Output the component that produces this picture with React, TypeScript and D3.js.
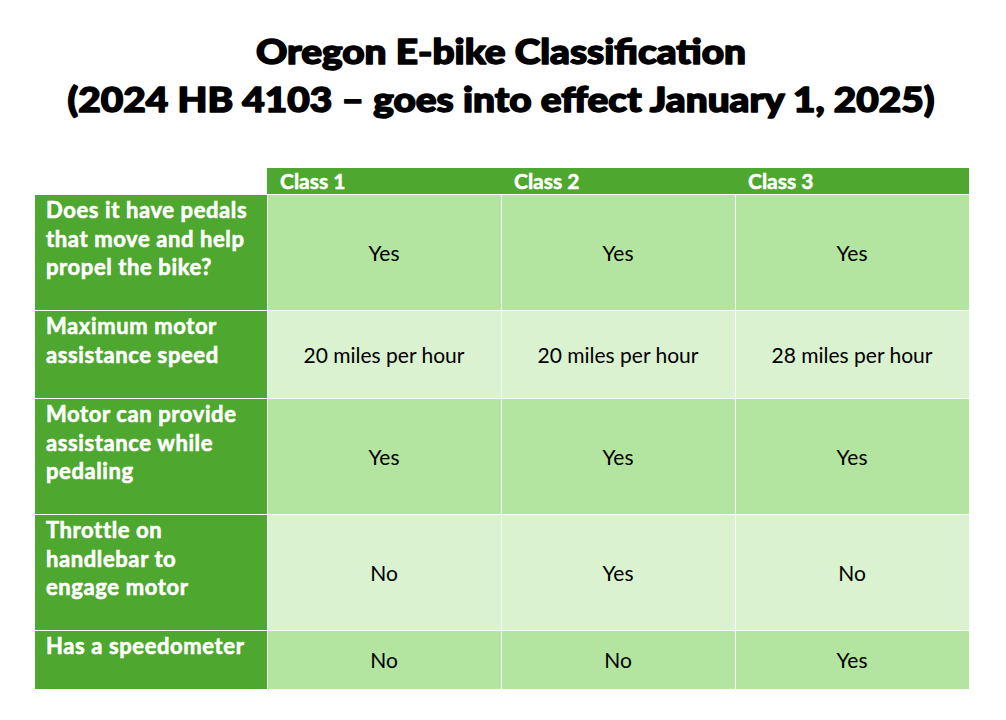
import React from "react";
import * as d3 from "d3";

const titleLines = ["Oregon E-bike Classification", "(2024 HB 4103 – goes into effect January 1, 2025)"];
const classes = ["Class 1", "Class 2", "Class 3"];
const questions = [
  ["Does it have pedals", "that move and help", "propel the bike?"],
  ["Maximum motor", "assistance speed"],
  ["Motor can provide", "assistance while", "pedaling"],
  ["Throttle on", "handlebar to", "engage motor"],
  ["Has a speedometer"],
];
const class1 = ["Yes", "20 miles per hour", "Yes", "No", "No"];
const class2 = ["Yes", "20 miles per hour", "Yes", "Yes", "No"];
const class3 = ["Yes", "28 miles per hour", "Yes", "No", "Yes"];
const answers = [class1, class2, class3];

const W = 1006;
const H = 720;
const GREEN = "#4EA72E";
const ROW_A = "#B3E5A1";
const ROW_B = "#DAF2D0";
const TITLE_WIDTHS = [490, 867];

export default function App() {
  const left = 35;
  const labelRight = 267;
  const right = 969;
  const headerTop = 168;
  const headerBottom = 194;

  const x = d3.scaleBand<string>().domain(classes).range([labelRight, right]).paddingInner(0);
  // row heights derived from number of label lines
  const heights = questions.map((q) => Math.round(30.5 + 28.5 * q.length));
  const tops: number[] = [];
  let acc = headerBottom + 1;
  heights.forEach((h) => {
    tops.push(acc);
    acc += h;
  });
  const font = "Lato, 'Open Sans', sans-serif";

  return (
    <svg width={W} height={H} style={{ position: "absolute", left: 0, top: 0, background: "#fff" }}>
      <rect x={0} y={0} width={W} height={H} fill="#fff" />
      {titleLines.map((t, i) => (
        <text
          key={i}
          x={501}
          y={64 + i * 48}
          textAnchor="middle"
          fontFamily={font}
          fontWeight={900}
          fontSize={34}
          fill="#000"
          stroke="#000"
          strokeWidth={1.5}
          strokeLinejoin="round"
          textLength={TITLE_WIDTHS[i]}
          lengthAdjust="spacingAndGlyphs"
        >
          {t}
        </text>
      ))}
      {/* header */}
      <rect x={labelRight} y={headerTop} width={right - labelRight} height={headerBottom - headerTop} fill={GREEN} />
      {classes.map((c) => (
        <text
          key={c}
          x={(x(c) as number) + 13}
          y={189}
          fontFamily={font}
          fontWeight={700}
          fontSize={21}
          fill="#fff"
          stroke="#fff"
          strokeWidth={0.5}
        >
          {c}
        </text>
      ))}
      {questions.map((q, r) => {
        const top = tops[r];
        const h = heights[r];
        return (
          <g key={r}>
            <rect x={left} y={top} width={labelRight - left} height={h - 1} fill={GREEN} />
            {q.map((line, li) => (
              <text
                key={li}
                x={46}
                y={top + 23 + li * 28.5}
                fontFamily={font}
                fontWeight={700}
                fontSize={22}
                letterSpacing={0.6}
                fill="#fff"
                stroke="#fff"
                strokeWidth={0.6}
              >
                {line}
              </text>
            ))}
            {classes.map((c, ci) => (
              <g key={c}>
                <rect
                  x={(x(c) as number) + 1}
                  y={top}
                  width={x.bandwidth() - 1}
                  height={h - 1}
                  fill={r % 2 === 0 ? ROW_A : ROW_B}
                />
                <text
                  x={(x(c) as number) + x.bandwidth() / 2}
                  y={top + (h - 1) / 2 + 8}
                  textAnchor="middle"
                  fontFamily={font}
                  fontWeight={400}
                  fontSize={21}
                  fill="#000"
                >
                  {answers[ci][r]}
                </text>
              </g>
            ))}
          </g>
        );
      })}
    </svg>
  );
}
